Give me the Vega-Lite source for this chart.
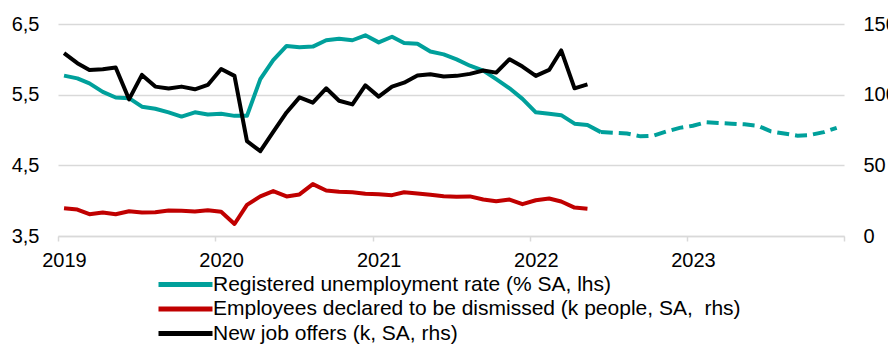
{
  "$schema": "https://vega.github.io/schema/vega-lite/v6.json",
  "width": 786,
  "height": 212,
  "autosize": "none",
  "padding": {"left": 58, "top": 24, "right": 44, "bottom": 109},
  "config": {
    "font": "Liberation Sans",
    "view": {"stroke": null},
    "axis": {"labelFont": "Liberation Sans", "labelFontSize": 20, "labelColor": "#000000", "title": null},
    "legend": {"labelFont": "Liberation Sans", "labelFontSize": 21, "labelColor": "#000000"}
  },
  "data": {
    "values": [
      {"d": "2019-01-15", "ur": 5.77, "dis": 19.7, "job": 129.4},
      {"d": "2019-02-15", "ur": 5.73, "dis": 18.7, "job": 122.3},
      {"d": "2019-03-15", "ur": 5.66, "dis": 15.4, "job": 117.5},
      {"d": "2019-04-15", "ur": 5.54, "dis": 16.6, "job": 118.0},
      {"d": "2019-05-15", "ur": 5.46, "dis": 15.4, "job": 119.2},
      {"d": "2019-06-15", "ur": 5.45, "dis": 17.5, "job": 96.7},
      {"d": "2019-07-15", "ur": 5.33, "dis": 16.6, "job": 114.0},
      {"d": "2019-08-15", "ur": 5.30, "dis": 16.8, "job": 105.7},
      {"d": "2019-09-15", "ur": 5.25, "dis": 18.0, "job": 104.3},
      {"d": "2019-10-15", "ur": 5.19, "dis": 17.8, "job": 105.7},
      {"d": "2019-11-15", "ur": 5.25, "dis": 17.3, "job": 103.8},
      {"d": "2019-12-15", "ur": 5.22, "dis": 18.2, "job": 106.9},
      {"d": "2020-01-15", "ur": 5.23, "dis": 17.1, "job": 118.2},
      {"d": "2020-02-15", "ur": 5.20, "dis": 8.5, "job": 113.3},
      {"d": "2020-03-15", "ur": 5.20, "dis": 22.0, "job": 67.1},
      {"d": "2020-04-15", "ur": 5.72, "dis": 28.0, "job": 60.0},
      {"d": "2020-05-15", "ur": 5.99, "dis": 31.8, "job": 73.7},
      {"d": "2020-06-15", "ur": 6.19, "dis": 28.0, "job": 87.4},
      {"d": "2020-07-15", "ur": 6.17, "dis": 29.4, "job": 98.1},
      {"d": "2020-08-15", "ur": 6.18, "dis": 36.7, "job": 94.3},
      {"d": "2020-09-15", "ur": 6.27, "dis": 32.2, "job": 104.5},
      {"d": "2020-10-15", "ur": 6.29, "dis": 31.3, "job": 95.7},
      {"d": "2020-11-15", "ur": 6.27, "dis": 31.0, "job": 93.1},
      {"d": "2020-12-15", "ur": 6.34, "dis": 29.9, "job": 106.6},
      {"d": "2021-01-15", "ur": 6.24, "dis": 29.6, "job": 98.6},
      {"d": "2021-02-15", "ur": 6.32, "dis": 28.9, "job": 105.7},
      {"d": "2021-03-15", "ur": 6.23, "dis": 31.0, "job": 108.5},
      {"d": "2021-04-15", "ur": 6.22, "dis": 30.1, "job": 113.5},
      {"d": "2021-05-15", "ur": 6.11, "dis": 29.2, "job": 114.5},
      {"d": "2021-06-15", "ur": 6.07, "dis": 28.2, "job": 112.8},
      {"d": "2021-07-15", "ur": 6.00, "dis": 27.7, "job": 113.3},
      {"d": "2021-08-15", "ur": 5.91, "dis": 28.0, "job": 114.7},
      {"d": "2021-09-15", "ur": 5.84, "dis": 25.8, "job": 117.1},
      {"d": "2021-10-15", "ur": 5.72, "dis": 24.6, "job": 115.6},
      {"d": "2021-11-15", "ur": 5.59, "dis": 25.8, "job": 125.1},
      {"d": "2021-12-15", "ur": 5.44, "dis": 22.5, "job": 119.9},
      {"d": "2022-01-15", "ur": 5.25, "dis": 25.3, "job": 113.3},
      {"d": "2022-02-15", "ur": 5.23, "dis": 26.5, "job": 117.5},
      {"d": "2022-03-15", "ur": 5.21, "dis": 24.4, "job": 131.3},
      {"d": "2022-04-15", "ur": 5.09, "dis": 20.1, "job": 104.5},
      {"d": "2022-05-15", "ur": 5.07, "dis": 19.2, "job": 107.3},
      {"d": "2022-06-15", "ur": 4.97, "fc": 4.97},
      {"d": "2022-07-15", "fc": 4.96},
      {"d": "2022-08-15", "fc": 4.95},
      {"d": "2022-09-15", "fc": 4.91},
      {"d": "2022-10-15", "fc": 4.92},
      {"d": "2022-11-15", "fc": 4.98},
      {"d": "2022-12-15", "fc": 5.03},
      {"d": "2023-01-15", "fc": 5.06},
      {"d": "2023-02-15", "fc": 5.11},
      {"d": "2023-03-15", "fc": 5.10},
      {"d": "2023-04-15", "fc": 5.09},
      {"d": "2023-05-15", "fc": 5.08},
      {"d": "2023-06-15", "fc": 5.06},
      {"d": "2023-07-15", "fc": 4.98},
      {"d": "2023-08-15", "fc": 4.95},
      {"d": "2023-09-15", "fc": 4.92},
      {"d": "2023-10-15", "fc": 4.93},
      {"d": "2023-11-15", "fc": 4.97},
      {"d": "2023-12-15", "fc": 5.03}
    ]
  },
  "layer": [
    {
      "layer": [
        {
          "transform": [{"fold": ["ur"], "as": ["s", "v"]}],
          "mark": {"type": "line", "strokeWidth": 4, "strokeJoin": "round"},
          "encoding": {
            "x": {
              "field": "d", "type": "temporal",
              "scale": {"type": "utc", "domain": [{"year": 2019, "month": 1, "date": 1, "utc": true}, {"year": 2024, "month": 1, "date": 1, "utc": true}]},
              "axis": {
                "values": [
                  {"year": 2019, "month": 1, "date": 1, "utc": true},
                  {"year": 2020, "month": 1, "date": 1, "utc": true},
                  {"year": 2021, "month": 1, "date": 1, "utc": true},
                  {"year": 2022, "month": 1, "date": 1, "utc": true},
                  {"year": 2023, "month": 1, "date": 1, "utc": true},
                  {"year": 2024, "month": 1, "date": 1, "utc": true}
                ],
                "labelExpr": "utcyear(datum.value) == 2024 ? '' : '' + utcyear(datum.value)",
                "grid": false,
                "domainColor": "#D9D9D9",
                "domainWidth": 1.5,
                "tickColor": "#D9D9D9",
                "tickWidth": 1.5,
                "tickSize": 5,
                "labelPadding": 9,
                "labelOffset": 6,
                "labelFlush": false,
                "labelOverlap": false
              }
            },
            "y": {
              "field": "v", "type": "quantitative",
              "scale": {"domain": [3.5, 6.5], "nice": false, "zero": false},
              "axis": {
                "orient": "left",
                "values": [3.5, 4.5, 5.5, 6.5],
                "labelExpr": "replace(format(datum.value, '.1f'), '.', ',')",
                "grid": true,
                "gridColor": "#D9D9D9",
                "gridWidth": 1.5,
                "domain": false,
                "ticks": false,
                "labelPadding": 19
              }
            },
            "color": {
              "field": "s", "type": "nominal",
              "scale": {"domain": ["ur", "dis", "job"], "range": ["#00A09B", "#C00000", "#000000"]},
              "legend": {
                "orient": "none",
                "legendX": 98,
                "legendY": 248,
                "title": null,
                "symbolType": "M-1,0H4.4",
                "symbolSize": 400,
                "symbolStrokeWidth": 5,
                "labelOffset": 32,
                "labelLimit": 800,
                "rowPadding": 1.5,
                "labelExpr": "datum.label == 'ur' ? 'Registered unemployment rate (% SA, lhs)' : datum.label == 'dis' ? 'Employees declared to be dismissed (k people, SA,\u00a0 rhs)' : 'New job offers (k, SA, rhs)'"
              }
            }
          }
        },
        {
          "mark": {"type": "line", "strokeWidth": 4, "strokeDash": [12, 6], "color": "#00A09B"},
          "encoding": {
            "x": {"field": "d", "type": "temporal"},
            "y": {"field": "fc", "type": "quantitative"}
          }
        }
      ]
    },
    {
      "transform": [{"fold": ["dis", "job"], "as": ["s", "v"]}],
      "mark": {"type": "line", "strokeWidth": 4, "strokeJoin": "round"},
      "encoding": {
        "x": {"field": "d", "type": "temporal"},
        "y": {
          "field": "v", "type": "quantitative",
          "scale": {"domain": [0, 150], "nice": false},
          "axis": {
            "orient": "right",
            "values": [0, 50, 100, 150],
            "grid": false,
            "domain": false,
            "ticks": false,
            "labelPadding": 19
          }
        },
        "color": {"field": "s", "type": "nominal"}
      }
    }
  ],
  "resolve": {"scale": {"y": "independent"}}
}
